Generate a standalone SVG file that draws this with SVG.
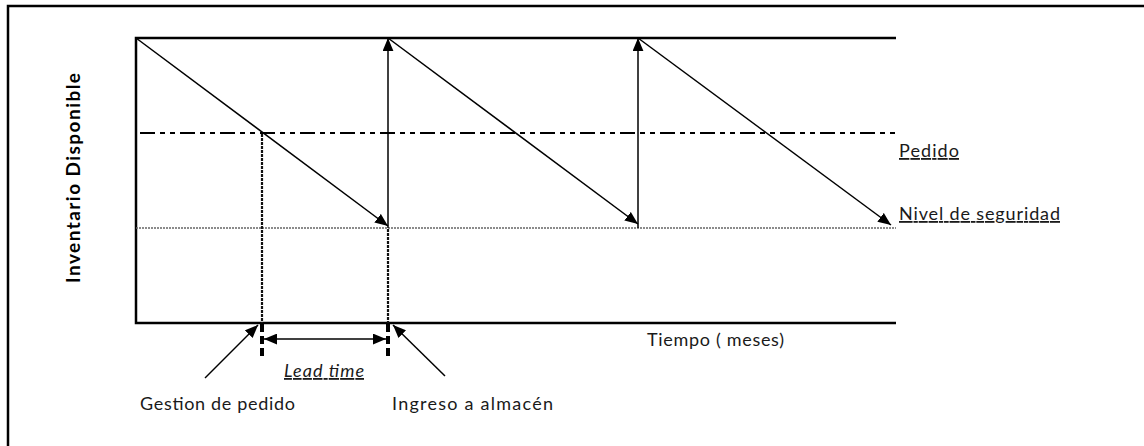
<svg xmlns="http://www.w3.org/2000/svg" width="1144" height="446" viewBox="0 0 1144 446">
<defs>
<marker id="ah" viewBox="0 0 12 10" refX="12" refY="5" markerWidth="13" markerHeight="11" markerUnits="userSpaceOnUse" orient="auto-start-reverse">
<path d="M0,0 L12,5 L0,10 Z" fill="#000"/>
</marker>
<style>
.txt{font-family:Lato,"Open Sans","Liberation Sans",sans-serif;font-size:18px;fill:#1a1a1a}
.ln{stroke:#000;stroke-width:1.5;fill:none}
.box{stroke:#000;stroke-width:2.5;fill:none}
.vd{stroke:#111;stroke-width:2.2;stroke-dasharray:3 1}
</style>
</defs>
<rect x="0" y="0" width="1144" height="446" fill="#fff"/>
<rect id="frame" x="8" y="6" width="1150" height="460" class="box"/>
<g id="chart">
<polyline points="896,38 136,38 136,323 896,323" class="box"/>
</g>
<g id="levels">
<line x1="140" y1="133" x2="896" y2="133" stroke="#000" stroke-width="2" stroke-dasharray="15 5 5 5 5 5"/>
<line x1="136" y1="228" x2="896" y2="228" stroke="#666" stroke-width="1.5" stroke-dasharray="2 1"/>
</g>
<g id="connectors">
<line x1="136" y1="38" x2="388" y2="226" class="ln" marker-end="url(#ah)"/>
<line x1="388" y1="38" x2="638" y2="224" class="ln" marker-end="url(#ah)"/>
<line x1="638" y1="38" x2="891" y2="225" class="ln" marker-end="url(#ah)"/>
<line x1="388" y1="228" x2="388" y2="38" class="ln" marker-end="url(#ah)"/>
<line x1="638" y1="228" x2="638" y2="38" class="ln" marker-end="url(#ah)"/>
<line x1="262" y1="134" x2="262" y2="323" class="vd"/>
<line x1="388" y1="229" x2="388" y2="323" class="vd"/>
<line x1="262" y1="324" x2="262" y2="356" stroke="#000" stroke-width="4" stroke-dasharray="8 4"/>
<line x1="388" y1="324" x2="388" y2="356" stroke="#000" stroke-width="4" stroke-dasharray="8 4"/>
<line x1="264" y1="339" x2="386" y2="339" class="ln" marker-start="url(#ah)" marker-end="url(#ah)"/>
<line x1="205" y1="378" x2="258" y2="325" class="ln" marker-end="url(#ah)"/>
<line x1="445" y1="376" x2="393" y2="325" class="ln" marker-end="url(#ah)"/>
</g>
<g id="labels">
<text class="txt" x="0" y="0" transform="translate(80,178) rotate(-90)" text-anchor="middle" font-weight="bold" textLength="210" lengthAdjust="spacing" style="fill:#000;font-size:19px">Inventario Disponible</text>
<text class="txt" x="899" y="157" textLength="60" lengthAdjust="spacing" text-decoration="underline">Pedido</text>
<text class="txt" x="899" y="220" textLength="161" lengthAdjust="spacing" text-decoration="underline">Nivel de seguridad</text>
<text class="txt" x="647" y="346" textLength="137" lengthAdjust="spacing">Tiempo ( meses)</text>
<text class="txt" x="284" y="377" font-style="italic" textLength="80" lengthAdjust="spacing" text-decoration="underline">Lead time</text>
<text class="txt" x="140" y="410" textLength="155" lengthAdjust="spacing">Gestion de pedido</text>
<text class="txt" x="392" y="410" textLength="161" lengthAdjust="spacing">Ingreso a almacén</text>
</g>
</svg>
